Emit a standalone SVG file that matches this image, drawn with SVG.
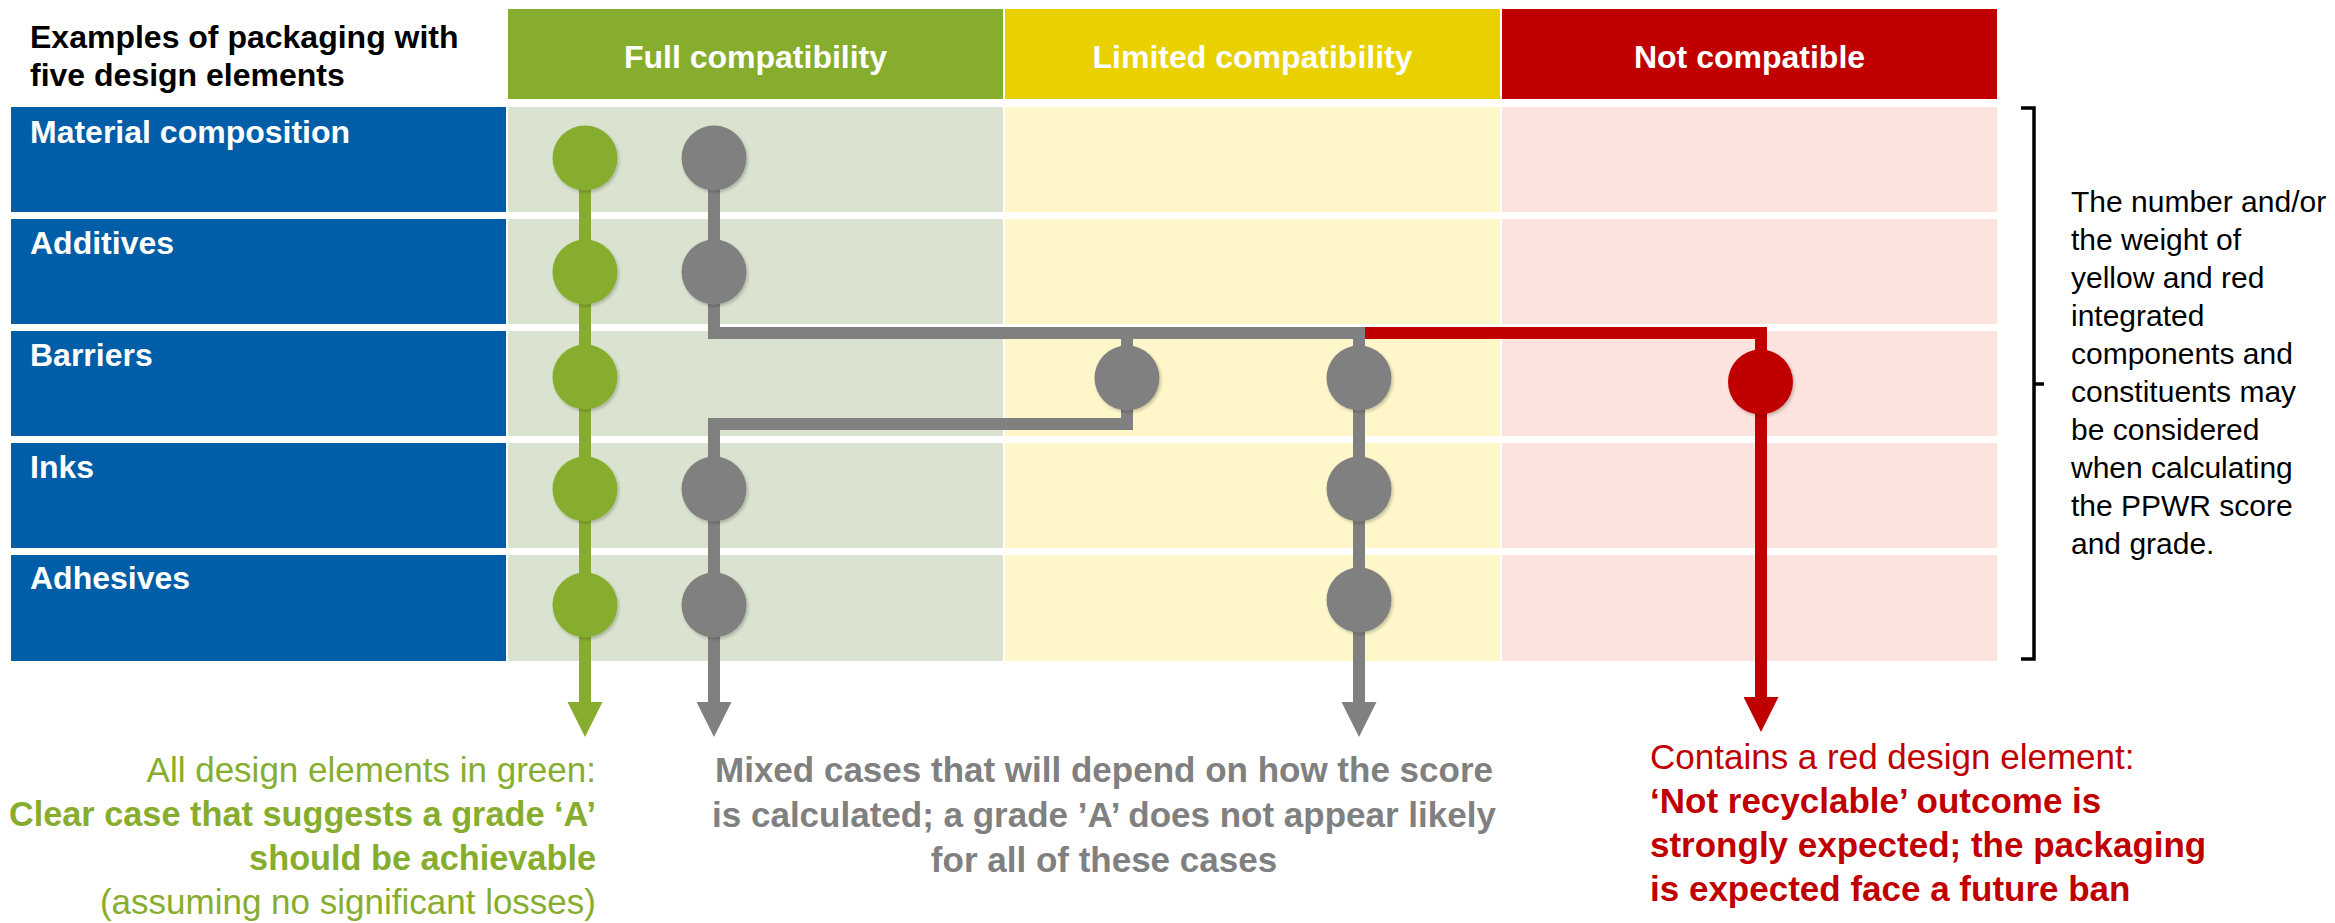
<svg xmlns="http://www.w3.org/2000/svg" width="2335" height="923" viewBox="0 0 2335 923">
<style>
  text { font-family: "Liberation Sans", Arial, sans-serif; }
  .hdr { font-size: 32px; font-weight: bold; fill: #ffffff; text-anchor: middle; }
  .lbl { font-size: 32px; font-weight: bold; fill: #ffffff; }
  .title { font-size: 32px; font-weight: bold; fill: #000000; }
  .note { font-size: 30px; fill: #000000; }
  .out { font-size: 35px; }
  .b { font-weight: bold; }
  .gb { font-size: 34.3px; }
  .blue { fill: #005EA8; }
  .cg { fill: #DAE3CF; }
  .cy { fill: #FFF7C9; }
  .cr { fill: #FCE3DD; }
  .ng { fill: #87AD2E; filter: url(#sh); }
  .nx { fill: #808080; filter: url(#sh); }
  .nr { fill: #C00000; filter: url(#sh); }
  .ln { fill: none; stroke-width: 12; stroke-linejoin: miter; stroke-linecap: butt; }
</style>
<defs>
  <filter id="sh" x="-30%" y="-30%" width="160%" height="160%">
    <feDropShadow dx="1.5" dy="2" stdDeviation="1.5" flood-color="#000" flood-opacity="0.22"/>
  </filter>
  <marker id="aG" viewBox="0 0 35 35" markerWidth="35" markerHeight="35" refX="0" refY="17.5" orient="auto" markerUnits="userSpaceOnUse">
    <path d="M0,0 L35,17.5 L0,35 Z" fill="#87AD2E"/>
  </marker>
  <marker id="aX" viewBox="0 0 35 35" markerWidth="35" markerHeight="35" refX="0" refY="17.5" orient="auto" markerUnits="userSpaceOnUse">
    <path d="M0,0 L35,17.5 L0,35 Z" fill="#808080"/>
  </marker>
  <marker id="aR" viewBox="0 0 35 35" markerWidth="35" markerHeight="35" refX="0" refY="17.5" orient="auto" markerUnits="userSpaceOnUse">
    <path d="M0,0 L35,17.5 L0,35 Z" fill="#C00000"/>
  </marker>
</defs>
<rect x="0" y="0" width="2335" height="923" fill="#ffffff"/>

<g id="title">
  <text class="title" x="30" y="48">Examples of packaging with</text>
  <text class="title" x="30" y="86">five design elements</text>
</g>

<g id="headers">
  <rect x="508" y="9" width="495" height="90" fill="#87AD2E"/>
  <rect x="1005" y="9" width="495" height="90" fill="#E9D100"/>
  <rect x="1502" y="9" width="495" height="90" fill="#C00000"/>
  <text class="hdr" x="755.5" y="68">Full compatibility</text>
  <text class="hdr" x="1252.5" y="68">Limited compatibility</text>
  <text class="hdr" x="1749.5" y="68">Not compatible</text>
</g>

<g id="grid">
  <rect class="blue" x="11" y="107" width="495" height="105"/>
  <rect class="cg" x="508" y="107" width="495" height="105"/>
  <rect class="cy" x="1005" y="107" width="495" height="105"/>
  <rect class="cr" x="1502" y="107" width="495" height="105"/>
  <rect class="blue" x="11" y="219" width="495" height="105"/>
  <rect class="cg" x="508" y="219" width="495" height="105"/>
  <rect class="cy" x="1005" y="219" width="495" height="105"/>
  <rect class="cr" x="1502" y="219" width="495" height="105"/>
  <rect class="blue" x="11" y="331" width="495" height="105"/>
  <rect class="cg" x="508" y="331" width="495" height="105"/>
  <rect class="cy" x="1005" y="331" width="495" height="105"/>
  <rect class="cr" x="1502" y="331" width="495" height="105"/>
  <rect class="blue" x="11" y="443" width="495" height="105"/>
  <rect class="cg" x="508" y="443" width="495" height="105"/>
  <rect class="cy" x="1005" y="443" width="495" height="105"/>
  <rect class="cr" x="1502" y="443" width="495" height="105"/>
  <rect class="blue" x="11" y="555" width="495" height="106"/>
  <rect class="cg" x="508" y="555" width="495" height="106"/>
  <rect class="cy" x="1005" y="555" width="495" height="106"/>
  <rect class="cr" x="1502" y="555" width="495" height="106"/>
</g>

<g id="row-labels">
  <text class="lbl" x="30" y="143">Material composition</text>
  <text class="lbl" x="30" y="254">Additives</text>
  <text class="lbl" x="30" y="366">Barriers</text>
  <text class="lbl" x="30" y="478">Inks</text>
  <text class="lbl" x="30" y="589">Adhesives</text>
</g>

<g id="connectors">
  <path class="ln" stroke="#87AD2E" d="M585,158 V702" marker-end="url(#aG)"/>
  <path class="ln" stroke="#808080" d="M714,158 V333 H1359 V702" marker-end="url(#aX)"/>
  <path class="ln" stroke="#808080" d="M1127,333 V424 H714 V702" marker-end="url(#aX)"/>
  <path class="ln" stroke="#C00000" d="M1365,333 H1761 V697" marker-end="url(#aR)"/>
</g>

<g id="nodes-green">
  <circle class="ng" cx="585" cy="158" r="32.5"/>
  <circle class="ng" cx="585" cy="272" r="32.5"/>
  <circle class="ng" cx="585" cy="377" r="32.5"/>
  <circle class="ng" cx="585" cy="489" r="32.5"/>
  <circle class="ng" cx="585" cy="605" r="32.5"/>
</g>
<g id="nodes-gray">
  <circle class="nx" cx="714" cy="158" r="32.5"/>
  <circle class="nx" cx="714" cy="272" r="32.5"/>
  <circle class="nx" cx="714" cy="489" r="32.5"/>
  <circle class="nx" cx="714" cy="605" r="32.5"/>
  <circle class="nx" cx="1127" cy="378" r="32.5"/>
  <circle class="nx" cx="1359" cy="378" r="32.5"/>
  <circle class="nx" cx="1359" cy="489" r="32.5"/>
  <circle class="nx" cx="1359" cy="600" r="32.5"/>
</g>
<g id="nodes-red">
  <circle class="nr" cx="1760.5" cy="382" r="32.5"/>
</g>

<g id="bracket">
  <path d="M2021,108 H2034 V659 H2021 M2034,384 H2044" fill="none" stroke="#000000" stroke-width="3.5"/>
  <text class="note" x="2071" y="212">The number and/or</text>
  <text class="note" x="2071" y="250">the weight of</text>
  <text class="note" x="2071" y="288">yellow and red</text>
  <text class="note" x="2071" y="326">integrated</text>
  <text class="note" x="2071" y="364">components and</text>
  <text class="note" x="2071" y="402">constituents may</text>
  <text class="note" x="2071" y="440">be considered</text>
  <text class="note" x="2071" y="478">when calculating</text>
  <text class="note" x="2071" y="516">the PPWR score</text>
  <text class="note" x="2071" y="554">and grade.</text>
</g>

<g id="outcome-green" fill="#87AD2E" text-anchor="end">
  <text class="out" x="596" y="782">All design elements in green:</text>
  <text class="out b gb" x="596" y="826">Clear case that suggests a grade ‘A’</text>
  <text class="out b gb" x="596" y="870">should be achievable</text>
  <text class="out" x="596" y="914">(assuming no significant losses)</text>
</g>

<g id="outcome-gray" fill="#808080" text-anchor="middle">
  <text class="out b" x="1104" y="782">Mixed cases that will depend on how the score</text>
  <text class="out b" x="1104" y="827">is calculated; a grade ’A’ does not appear likely</text>
  <text class="out b" x="1104" y="872">for all of these cases</text>
</g>

<g id="outcome-red" fill="#C00000">
  <text class="out" x="1650" y="769">Contains a red design element:</text>
  <text class="out b" x="1650" y="813">‘Not recyclable’ outcome is</text>
  <text class="out b" x="1650" y="857">strongly expected; the packaging</text>
  <text class="out b" x="1650" y="901">is expected face a future ban</text>
</g>
</svg>
